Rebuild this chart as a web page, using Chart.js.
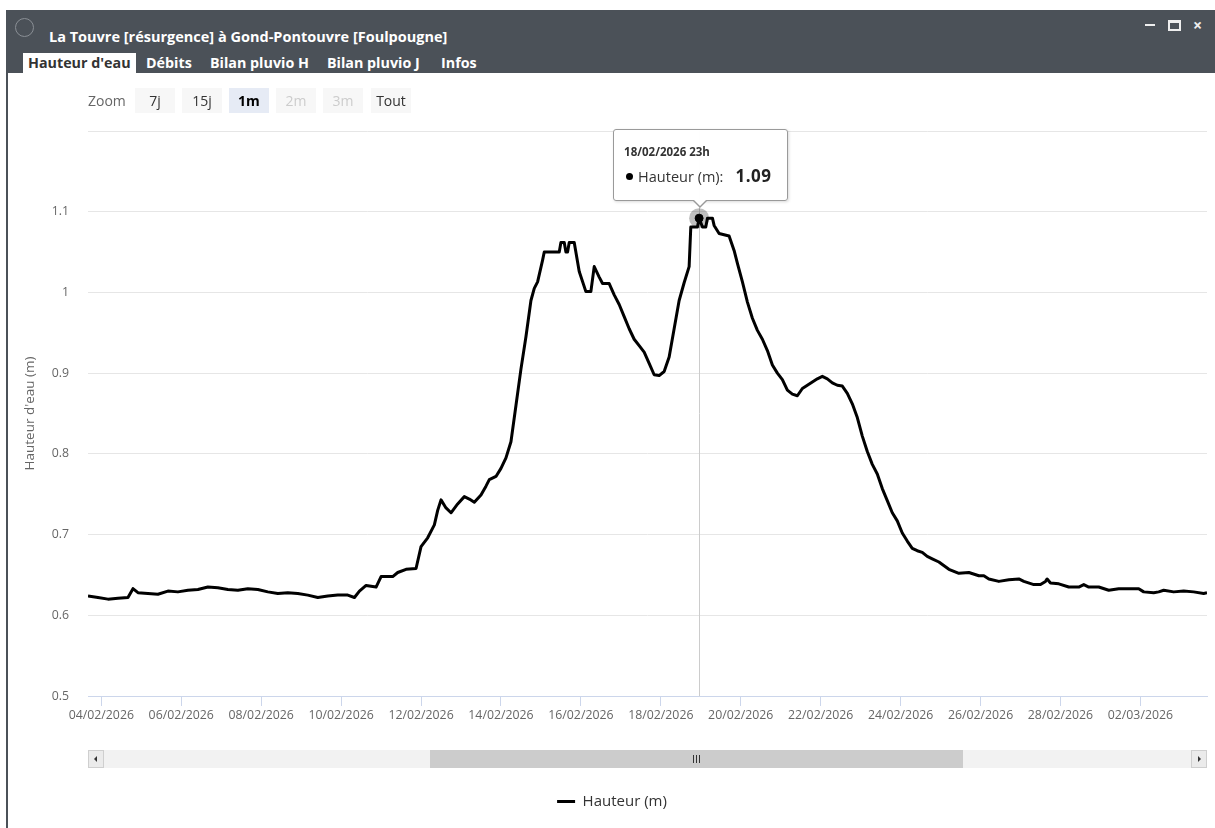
<!DOCTYPE html>
<html>
<head>
<meta charset="utf-8">
<script src="https://cdn.jsdelivr.net/npm/chart.js@4.4.1/dist/chart.umd.min.js"></script>
<style>
  html, body { margin: 0; padding: 0; background: #fff; }
  body { width: 1215px; height: 828px; position: relative; overflow: hidden; font-family: 'Open Sans', sans-serif; }
  #chart { position: absolute; left: 0; top: 0; }
  #win { position: absolute; left: 6px; top: 10px; width: 2px; height: 818px; background: #4b5158; }
  #bar { position: absolute; left: 6px; top: 10px; width: 1209px; height: 63px; background: #4b5158; }
  #bar .circ { position: absolute; left: 9px; top: 8px; width: 17px; height: 17px; border-radius: 50%; border: 1px solid #8a8f95; }
  #bar .title { position: absolute; left: 43px; top: 17px; color: #fff; font-weight: bold; font-size: 14.5px; line-height: 20px; white-space: nowrap; }
  #bar .min { position: absolute; left: 1139px; top: 14px; width: 10px; height: 2px; background: #eee; }
  #bar .max { position: absolute; left: 1162px; top: 10px; width: 9px; height: 6px; border: 2px solid #eee; border-top-width: 3px; }
  #bar .cls { position: absolute; left: 1187px; top: 7px; color: #eee; font-size: 16px; line-height: 16px; font-weight: bold; }
  #bar .tab { position: absolute; top: 43px; height: 20px; line-height: 20px; color: #fff; font-weight: bold; font-size: 14.3px; white-space: nowrap; }
  #bar .tab.on { background: #fff; color: #333; padding: 0 5px; }
  #zoom span { position: absolute; top: 88px; height: 25px; line-height: 25px; font-size: 14px; text-align: center; }
  #zoom .lbl { left: 88px; color: #666; }
  #zoom .b { width: 40px; background: #f7f7f7; color: #333; }
  #zoom .b.on { background: #e6ebf5; color: #000; font-weight: bold; }
  #zoom .b.off { color: #ccc; }
  #sb { position: absolute; left: 88px; top: 750px; width: 1119px; height: 18px; background: #f2f2f2; }
  #sb .thumb { position: absolute; left: 342px; top: 0; width: 533px; height: 18px; background: #cccccc; }
  #sb .grip { position: absolute; left: 263px; top: 5px; width: 7px; height: 8px; border-left: 1px solid #333; border-right: 1px solid #333; box-sizing: border-box; }
  #sb .grip:after { content: ''; position: absolute; left: 2px; top: 0; width: 1px; height: 8px; background: #333; }
  #sb .btn { position: absolute; top: 0; width: 16px; height: 18px; background: #ebebeb; border: 1px solid #cfcfcf; box-sizing: border-box; }
  #sb .btn.l { left: 0; }
  #sb .btn.r { right: 0; }
  #sb .btn i { position: absolute; top: 5px; width: 0; height: 0; border-top: 3px solid transparent; border-bottom: 3px solid transparent; }
  #sb .btn.l i { left: 5px; border-right: 3px solid #333; }
  #sb .btn.r i { left: 6px; border-left: 3px solid #333; }
  #tip { position: absolute; display: none; width: 175px; height: 72px; box-sizing: border-box; background: rgba(255,255,255,0.97); border: 1px solid #9a9a9a; border-radius: 3px; box-shadow: 1px 1px 3px rgba(0,0,0,0.15); color: #333; }
  #tip .tt { position: absolute; left: 10px; top: 14px; font-size: 11.5px; font-weight: bold; line-height: 16px; white-space: nowrap; }
  #tip .tb { position: absolute; left: 12px; top: 36px; font-size: 14.5px; line-height: 20px; white-space: nowrap; }
  #tip .dot { display: inline-block; width: 7px; height: 7px; border-radius: 50%; background: #000; margin-right: 5px; vertical-align: 2px; }
  #tip .tv { font-weight: bold; font-size: 17px; margin-left: 12px; color: #222; letter-spacing: 0.5px; }
  #tip:before { content: ''; position: absolute; left: 78px; bottom: -8px; border-left: 8px solid transparent; border-right: 8px solid transparent; border-top: 8px solid #9a9a9a; }
  #tip:after { content: ''; position: absolute; left: 79px; bottom: -6px; border-left: 7px solid transparent; border-right: 7px solid transparent; border-top: 7px solid #fff; }
</style>
</head>
<body>
<canvas id="chart" width="1215" height="828"></canvas>
<div id="win"></div>
<div id="bar">
  <span class="circ"></span>
  <div class="title">La Touvre [résurgence] à Gond-Pontouvre [Foulpougne]</div>
  <span class="min"></span><span class="max"></span><span class="cls">×</span>
  <span class="tab on" style="left:17px">Hauteur d'eau</span>
  <span class="tab" style="left:140px">Débits</span>
  <span class="tab" style="left:204px">Bilan pluvio H</span>
  <span class="tab" style="left:321px">Bilan pluvio J</span>
  <span class="tab" style="left:435px">Infos</span>
</div>
<div id="zoom">
  <span class="lbl">Zoom</span>
  <span class="b" style="left:135px">7j</span>
  <span class="b" style="left:182px">15j</span>
  <span class="b on" style="left:229px">1m</span>
  <span class="b off" style="left:276px">2m</span>
  <span class="b off" style="left:323px">3m</span>
  <span class="b" style="left:371px">Tout</span>
</div>
<div id="sb">
  <div class="btn l"><i></i></div>
  <div class="thumb"><div class="grip"></div></div>
  <div class="btn r"><i></i></div>
</div>
<div id="tip"><div class="tt"></div><div class="tb"><span class="dot"></span><span class="tn"></span><span class="tv"></span></div></div>
<script>
// hauteur d'eau, relevés (heure UTC)
var times = [
  '2026-02-03T16','2026-02-03T22','2026-02-04T04','2026-02-04T10','2026-02-04T16','2026-02-04T19','2026-02-04T22',
  '2026-02-05T04','2026-02-05T10','2026-02-05T16','2026-02-05T22','2026-02-06T04','2026-02-06T10','2026-02-06T16','2026-02-06T22',
  '2026-02-07T04','2026-02-07T10','2026-02-07T16','2026-02-07T22','2026-02-08T04','2026-02-08T10','2026-02-08T16','2026-02-08T22',
  '2026-02-09T04','2026-02-09T10','2026-02-09T16','2026-02-09T22','2026-02-10T04','2026-02-10T08','2026-02-10T11','2026-02-10T15',
  '2026-02-10T21','2026-02-11T00','2026-02-11T07','2026-02-11T10','2026-02-11T15','2026-02-11T21','2026-02-12T00','2026-02-12T04',
  '2026-02-12T08','2026-02-12T10','2026-02-12T12','2026-02-12T15','2026-02-12T18','2026-02-12T22','2026-02-13T02','2026-02-13T05',
  '2026-02-13T08','2026-02-13T12','2026-02-13T15','2026-02-13T17','2026-02-13T21','2026-02-14T00','2026-02-14T03','2026-02-14T06',
  '2026-02-14T09','2026-02-14T12','2026-02-14T15','2026-02-14T18','2026-02-14T20','2026-02-14T22','2026-02-15T01','2026-02-15T02',
  '2026-02-15T11','2026-02-15T12','2026-02-15T14','2026-02-15T15','2026-02-15T16','2026-02-15T17','2026-02-15T20','2026-02-15T23',
  '2026-02-16T03','2026-02-16T06','2026-02-16T08','2026-02-16T11','2026-02-16T13','2026-02-16T17','2026-02-16T20','2026-02-16T23',
  '2026-02-17T02','2026-02-17T05','2026-02-17T08','2026-02-17T11','2026-02-17T14','2026-02-17T17','2026-02-17T20','2026-02-17T23',
  '2026-02-18T02','2026-02-18T05','2026-02-18T08','2026-02-18T11','2026-02-18T14','2026-02-18T17','2026-02-18T18','2026-02-18T22',
  '2026-02-18T23','2026-02-19T01','2026-02-19T03','2026-02-19T04','2026-02-19T07','2026-02-19T08','2026-02-19T11','2026-02-19T17',
  '2026-02-19T20','2026-02-19T22','2026-02-20T01','2026-02-20T04','2026-02-20T07','2026-02-20T10','2026-02-20T13','2026-02-20T16',
  '2026-02-20T19','2026-02-20T22','2026-02-21T01','2026-02-21T04','2026-02-21T07','2026-02-21T10','2026-02-21T13','2026-02-21T16',
  '2026-02-21T19','2026-02-21T22','2026-02-22T01','2026-02-22T04','2026-02-22T07','2026-02-22T10','2026-02-22T13','2026-02-22T16',
  '2026-02-22T19','2026-02-22T22','2026-02-23T01','2026-02-23T04','2026-02-23T07','2026-02-23T10','2026-02-23T13','2026-02-23T16',
  '2026-02-23T19','2026-02-23T22','2026-02-24T01','2026-02-24T04','2026-02-24T07','2026-02-24T10','2026-02-24T13','2026-02-24T16',
  '2026-02-24T19','2026-02-24T23','2026-02-25T05','2026-02-25T11','2026-02-25T17','2026-02-25T23','2026-02-26T02','2026-02-26T05',
  '2026-02-26T11','2026-02-26T17','2026-02-26T23','2026-02-27T02','2026-02-27T08','2026-02-27T12','2026-02-27T15','2026-02-27T16',
  '2026-02-27T18','2026-02-27T23','2026-02-28T05','2026-02-28T11','2026-02-28T14','2026-02-28T17','2026-02-28T23','2026-03-01T05',
  '2026-03-01T11','2026-03-01T17','2026-03-01T23','2026-03-02T02','2026-03-02T08','2026-03-02T11','2026-03-02T14','2026-03-02T20',
  '2026-03-03T02','2026-03-03T08','2026-03-03T14','2026-03-03T16'
];
var heights = [
  0.624,0.622,0.620,0.621,0.622,0.633,0.628,
  0.627,0.626,0.630,0.629,0.631,0.632,0.635,0.634,
  0.632,0.631,0.633,0.632,0.629,0.627,0.628,0.627,
  0.625,0.622,0.624,0.625,0.625,0.622,0.630,0.637,
  0.635,0.648,0.648,0.653,0.657,0.658,0.685,0.696,
  0.712,0.730,0.743,0.733,0.727,0.738,0.747,0.744,
  0.740,0.749,0.760,0.768,0.772,0.782,0.795,0.815,
  0.860,0.905,0.945,0.990,1.005,1.013,1.040,1.050,
  1.050,1.062,1.062,1.050,1.050,1.062,1.062,1.026,
  1.001,1.001,1.032,1.019,1.011,1.011,0.997,0.985,
  0.970,0.955,0.942,0.934,0.926,0.912,0.898,0.897,
  0.902,0.920,0.955,0.990,1.012,1.032,1.081,1.081,
  1.092,1.081,1.081,1.092,1.092,1.083,1.073,1.070,
  1.052,1.036,1.013,0.988,0.968,0.953,0.942,0.928,
  0.910,0.900,0.892,0.879,0.874,0.872,0.881,0.885,
  0.889,0.893,0.896,0.893,0.888,0.885,0.884,0.875,
  0.862,0.845,0.822,0.803,0.787,0.775,0.757,0.742,
  0.727,0.717,0.702,0.692,0.683,0.680,0.678,0.673,
  0.670,0.666,0.657,0.652,0.653,0.649,0.649,0.645,
  0.642,0.644,0.645,0.642,0.638,0.638,0.642,0.645,
  0.640,0.639,0.635,0.635,0.638,0.635,0.635,0.631,
  0.633,0.633,0.633,0.629,0.628,0.629,0.631,0.629,
  0.630,0.629,0.627,0.628
];
var xTickLabels = ['04/02/2026','06/02/2026','08/02/2026','10/02/2026','12/02/2026','14/02/2026','16/02/2026',
  '18/02/2026','20/02/2026','22/02/2026','24/02/2026','26/02/2026','28/02/2026','02/03/2026'];
var seriesName = 'Hauteur (m)';
var yTitle = "Hauteur d'eau (m)";
var hoverTime = '2026-02-18T23';

function toMs(s) {
  return Date.UTC(+s.slice(0, 4), +s.slice(5, 7) - 1, +s.slice(8, 10), +s.slice(11, 13));
}
function tickToMs(l) {
  var p = l.split('/');
  return Date.UTC(+p[2], +p[1] - 1, +p[0]);
}
function pad(n) { return (n < 10 ? '0' : '') + n; }
function fmtDay(ms) {
  var d = new Date(ms);
  return pad(d.getUTCDate()) + '/' + pad(d.getUTCMonth() + 1) + '/' + d.getUTCFullYear();
}
function fmtHour(ms) {
  return fmtDay(ms) + ' ' + pad(new Date(ms).getUTCHours()) + 'h';
}

var points = times.map(function (t, i) { return { x: toMs(t), y: heights[i] }; });

// ligne verticale + halo sur le point survolé
var crosshair = {
  id: 'crosshair',
  beforeDatasetsDraw: function (chart) {
    var act = chart.getActiveElements();
    if (!act.length) return;
    var el = act[0].element, ctx = chart.ctx, area = chart.chartArea;
    ctx.save();
    ctx.strokeStyle = '#cccccc';
    ctx.lineWidth = 1;
    var x = Math.round(el.x) + 0.5;
    ctx.beginPath(); ctx.moveTo(x, area.top); ctx.lineTo(x, area.bottom); ctx.stroke();
    ctx.fillStyle = 'rgba(0,0,0,0.25)';
    ctx.beginPath(); ctx.arc(el.x, el.y, 10, 0, Math.PI * 2); ctx.fill();
    ctx.restore();
  }
};

function drawTip(context) {
  var tip = context.tooltip;
  var box = document.getElementById('tip');
  if (tip.opacity === 0 || !tip.dataPoints || !tip.dataPoints.length) { box.style.display = 'none'; return; }
  var dp = tip.dataPoints[0];
  var cv = context.chart.canvas;
  box.querySelector('.tt').textContent = fmtHour(dp.parsed.x);
  box.querySelector('.tn').textContent = dp.dataset.label + ':';
  box.querySelector('.tv').textContent = dp.parsed.y.toFixed(2);
  box.style.display = 'block';
  box.style.left = (cv.offsetLeft + tip.caretX - 86) + 'px';
  box.style.top = (cv.offsetTop + tip.caretY - 89) + 'px';
}

Chart.defaults.font.family = "'Open Sans', sans-serif";

var ctx = document.getElementById('chart').getContext('2d');
var chart = new Chart(ctx, {
  type: 'line',
  data: {
    datasets: [{
      label: seriesName,
      data: points,
      borderColor: '#000',
      backgroundColor: '#000',
      borderWidth: 3,
      borderJoinStyle: 'round',
      pointRadius: 0,
      pointHoverRadius: 4,
      pointHoverBackgroundColor: '#000',
      pointHoverBorderColor: '#000',
      pointHoverBorderWidth: 1,
      tension: 0,
      fill: false
    }]
  },
  options: {
    responsive: false,
    animation: false,
    events: [],
    layout: { padding: { left: 17, right: 8, top: 131, bottom: 9 } },
    interaction: { mode: 'index', intersect: false },
    scales: {
      x: {
        type: 'linear',
        min: toMs(times[0]),
        max: toMs(times[times.length - 1]),
        afterFit: function (s) { s.height = 88; },
        afterBuildTicks: function (s) {
          s.ticks = xTickLabels.map(function (l) { return { value: tickToMs(l) }; });
        },
        ticks: {
          autoSkip: false, maxRotation: 0, padding: 2, color: '#666', font: { size: 12.3 },
          callback: function (v) { return fmtDay(v); }
        },
        grid: { drawOnChartArea: false, drawTicks: true, tickLength: 10, color: '#ccd6eb' },
        border: { display: true, color: '#ccd6eb' }
      },
      y: {
        min: 0.5,
        max: 1.2,
        afterFit: function (s) { s.width = 71; },
        ticks: {
          stepSize: 0.1, padding: 19, color: '#666', font: { size: 12.3 },
          callback: function (v) { return v > 1.15 ? '' : String(+v.toFixed(1)); }
        },
        grid: { color: '#e6e6e6', drawTicks: false },
        border: { display: false },
        title: { display: true, text: yTitle, color: '#666', font: { size: 13.5 }, padding: { top: 5, bottom: 0 } }
      }
    },
    plugins: {
      legend: {
        position: 'bottom',
        labels: { usePointStyle: true, pointStyle: 'line', pointStyleWidth: 18, color: '#333', font: { size: 15 }, padding: 10 }
      },
      tooltip: { enabled: false, external: drawTip }
    }
  },
  plugins: [crosshair]
});

var idx = times.indexOf(hoverTime);
chart.setActiveElements([{ datasetIndex: 0, index: idx }]);
chart.tooltip.setActiveElements([{ datasetIndex: 0, index: idx }], { x: 0, y: 0 });
chart.update();
</script>
</body>
</html>
